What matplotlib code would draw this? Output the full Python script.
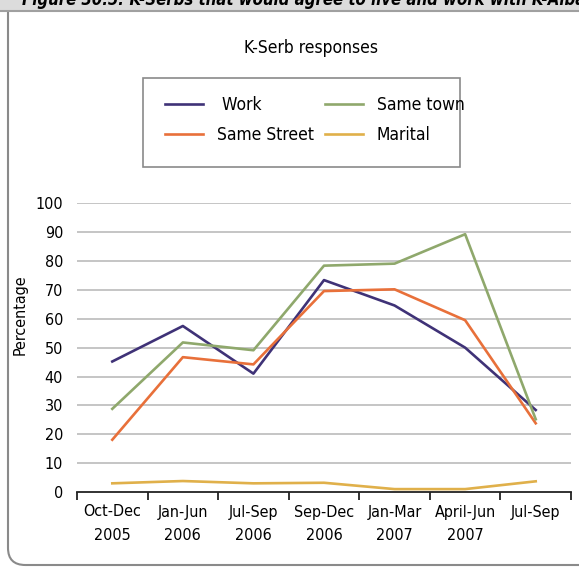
import matplotlib.pyplot as plt
from matplotlib.patches import FancyBboxPatch, Rectangle
from matplotlib.lines import Line2D

plt.rcParams['font.family'] = ['DejaVu Sans']
plt.rcParams['font.stretch'] = 'condensed'

periods = ['Oct-Dec\n2005', 'Jan-Jun\n2006', 'Jul-Sep\n2006', 'Sep-Dec\n2006',
           'Jan-Mar\n2007', 'April-Jun\n2007', 'Jul-Sep']
work = [45.2, 57.5, 41.0, 73.4, 64.6, 50.0, 28.4]
same_street = [18.1, 46.7, 44.2, 69.6, 70.2, 59.5, 23.8]
same_town = [28.8, 51.8, 49.1, 78.4, 79.1, 89.3, 25.2]
marital = [3.0, 3.8, 3.0, 3.2, 1.0, 1.0, 3.7]

c_work = '#3f3277'
c_street = '#e8703a'
c_town = '#8fa86c'
c_marital = '#e0b04a'

fig = plt.figure(figsize=(5.79, 5.70), dpi=100)

# outer frame and header bar
fig.patches.append(FancyBboxPatch((8 / 579, 5 / 570), 1.2, 1.2, boxstyle='round,pad=0,rounding_size=0.03',
                                  transform=fig.transFigure, fill=False, ec='#8a8a8a', lw=1.5))
fig.patches.append(Rectangle((0, 1 - 11 / 570), 1, 11 / 570, transform=fig.transFigure,
                             fc='#dcdcdc', ec='none'))
fig.add_artist(Line2D([0, 1], [1 - 11 / 570, 1 - 11 / 570], transform=fig.transFigure,
                      color='#a0a0a0', lw=1.5))
fig.text(22 / 579, 1 - 5 / 570, 'Figure 30.5: K-Serbs that would agree to live and work with K-Albanians',
         fontsize=12, fontweight='bold', fontstyle='italic', va='baseline', ha='left')

ax = fig.add_axes([77 / 579, 1 - 492 / 570, (571 - 77) / 579, (492 - 203.3) / 570])
x = list(range(len(periods)))
ax.plot(x, work, color=c_work, lw=1.9, label=' Work')
ax.plot(x, same_street, color=c_street, lw=1.9, label='Same Street')
ax.plot(x, same_town, color=c_town, lw=1.9, label='Same town')
ax.plot(x, marital, color=c_marital, lw=1.9, label='Marital')

ax.set_xlim(-0.5, len(periods) - 0.5)
ax.set_ylim(0, 100)
ax.set_yticks(range(0, 101, 10))
for v in range(10, 101, 10):
    ax.axhline(v, color='#c0c0c0', lw=1.3, zorder=0)
for s in ['top', 'right', 'left']:
    ax.spines[s].set_visible(False)
ax.spines['bottom'].set_color('#222222')
ax.spines['bottom'].set_linewidth(1.3)
ax.tick_params(axis='y', length=0, pad=10, labelsize=11.5)
ax.set_xticks(x)
ax.set_xticklabels(periods, fontsize=11.5, linespacing=1.75)
ax.set_xticks([i - 0.5 for i in range(len(periods) + 1)], minor=True)
ax.tick_params(axis='x', which='major', length=0, pad=9)
ax.tick_params(axis='x', which='minor', length=6, width=1.3, color='#222222', direction='out')
ax.set_ylabel('Percentage', fontsize=11.5)
ax.yaxis.set_label_coords(28 / 579, 1 - 315 / 570, transform=fig.transFigure)

fig.text(311 / 579, 1 - 48 / 570, 'K-Serb responses', fontsize=12.5, ha='center', va='center')

# legend frame drawn separately (uneven padding in the reference)
fig.patches.append(Rectangle((143 / 579, 1 - 167 / 570), (460 - 143) / 579, (167 - 78) / 570,
                             transform=fig.transFigure, fill=False, ec='#8a8a8a', lw=1.2))
h, l = ax.get_legend_handles_labels()
fig.legend(h, l, ncol=2,
           loc='upper left', bbox_to_anchor=(165 / 579, 1 - 96 / 570), bbox_transform=fig.transFigure,
           frameon=False, fontsize=12.5, borderpad=0, borderaxespad=0,
           handlelength=2.2, handletextpad=0.8, columnspacing=0.6, labelspacing=0.7)

fig.savefig('out.png', dpi=100)
